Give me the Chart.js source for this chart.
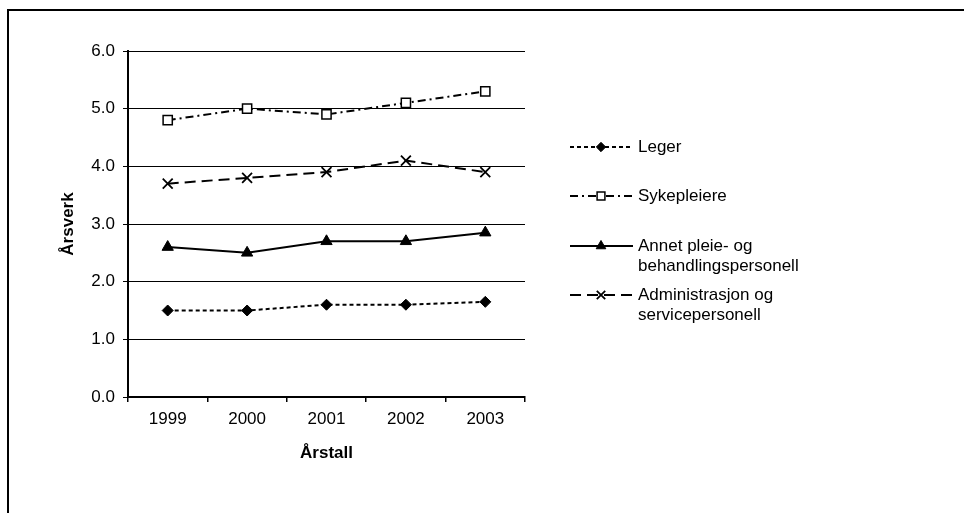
<!DOCTYPE html>
<html>
<head>
<meta charset="utf-8">
<title>Årsverk per år</title>
<script src="https://cdn.jsdelivr.net/npm/chart.js"></script>
<style>
  body { margin: 0; background: #fff; }
  #wrap { width: 964px; height: 513px; }
</style>
</head>
<body>
<div id="wrap"><canvas id="myChart" width="964" height="513"></canvas></div>
<script>
// data
var years = ['1999', '2000', '2001', '2002', '2003'];
var leger = [1.5, 1.5, 1.6, 1.6, 1.65];
var sykepleiere = [4.8, 5.0, 4.9, 5.1, 5.3];
var annet = [2.6, 2.5, 2.7, 2.7, 2.85];
var administrasjon = [3.7, 3.8, 3.9, 4.1, 3.9];
var seriesNames = [
  ['Leger'],
  ['Sykepleiere'],
  ['Annet pleie- og', 'behandlingspersonell'],
  ['Administrasjon og', 'servicepersonell']
];
var yMin = 0, yMax = 6, yStep = 1;

Chart.defaults.font.family = '"Liberation Sans", Arial, sans-serif';
Chart.defaults.font.size = 17;
Chart.defaults.color = '#000';

// outer frame (top + left edge only)
var framePlugin = {
  id: 'frame',
  beforeDraw: function (chart) {
    var ctx = chart.ctx;
    ctx.save();
    ctx.fillStyle = '#fff';
    ctx.fillRect(0, 0, chart.width, chart.height);
    ctx.strokeStyle = '#000';
    ctx.lineWidth = 2;
    ctx.beginPath();
    ctx.moveTo(8, chart.height);
    ctx.lineTo(8, 10);
    ctx.lineTo(chart.width, 10);
    ctx.stroke();
    ctx.restore();
  }
};

// legend on the right, drawn by hand so labels can wrap
var legendRows = [147, 196, 246, 295];
var sideLegend = {
  id: 'sideLegend',
  afterDraw: function (chart) {
    var ctx = chart.ctx;
    chart.data.datasets.forEach(function (ds, i) {
      var y = legendRows[i];
      ctx.save();
      ctx.strokeStyle = ds.borderColor;
      ctx.lineWidth = ds.borderWidth;
      ctx.setLineDash(ds.borderDash || []);
      ctx.beginPath();
      ctx.moveTo(570, y);
      ctx.lineTo(633, y);
      ctx.stroke();
      ctx.setLineDash([]);
      ctx.fillStyle = ds.pointBackgroundColor;
      ctx.strokeStyle = ds.pointBorderColor;
      ctx.lineWidth = ds.pointBorderWidth;
      Chart.helpers.drawPoint(ctx, {
        pointStyle: ds.pointStyle,
        radius: ds.pointRadius * 0.85,
        borderWidth: ds.pointBorderWidth,
        rotation: 0
      }, 601, y);
      ctx.fillStyle = '#000';
      ctx.font = '17px "Liberation Sans", Arial, sans-serif';
      ctx.textBaseline = 'middle';
      ctx.textAlign = 'left';
      seriesNames[i].forEach(function (line, k) {
        ctx.fillText(line, 638, y + k * 20);
      });
      ctx.restore();
    });
  }
};

var graph = document.getElementById('myChart');

var myChart = new Chart(graph, {
  type: 'line',
  data: {
    labels: years,
    datasets: [{
      label: seriesNames[0].join(' '),
      data: leger,
      borderColor: '#000',
      borderWidth: 2,
      borderDash: [4, 3],
      pointStyle: 'rectRot',
      pointRadius: 5.5,
      pointBackgroundColor: '#000',
      pointBorderColor: '#000',
      pointBorderWidth: 1
    }, {
      label: seriesNames[1].join(' '),
      data: sykepleiere,
      borderColor: '#000',
      borderWidth: 2,
      borderDash: [8, 4, 2, 4],
      pointStyle: 'rect',
      pointRadius: 6.5,
      pointBackgroundColor: '#fff',
      pointBorderColor: '#000',
      pointBorderWidth: 1.5
    }, {
      label: seriesNames[2].join(' '),
      data: annet,
      borderColor: '#000',
      borderWidth: 2,
      pointStyle: 'triangle',
      pointRadius: 6.5,
      pointBackgroundColor: '#000',
      pointBorderColor: '#000',
      pointBorderWidth: 1
    }, {
      label: seriesNames[3].join(' '),
      data: administrasjon,
      borderColor: '#000',
      borderWidth: 2,
      borderDash: [11, 6],
      pointStyle: 'crossRot',
      pointRadius: 7,
      pointBackgroundColor: '#000',
      pointBorderColor: '#000',
      pointBorderWidth: 1.8
    }]
  }, // ends data
  options: {
    responsive: false,
    animation: false,
    layout: { padding: { top: 51, right: 439, left: 0, bottom: 0 } },
    plugins: {
      legend: { display: false },
      tooltip: { enabled: false }
    },
    elements: { line: { tension: 0 } },
    scales: {
      x: {
        offset: true,
        grid: { offset: true, drawOnChartArea: false, drawTicks: true, tickLength: 5, color: '#000', lineWidth: 1.5 },
        border: { display: true, color: '#000', width: 2 },
        ticks: { padding: 7, maxRotation: 0, font: { size: 17 } },
        title: { display: true, text: 'Årstall', font: { size: 17, weight: 'bold' }, padding: { top: 0, bottom: 49 } },
        afterFit: function (scale) { scale.height = 116; }
      },
      y: {
        min: yMin,
        max: yMax,
        grid: { color: '#000', lineWidth: 1, tickLength: 5 },
        border: { display: true, color: '#000', width: 2 },
        ticks: {
          stepSize: yStep,
          padding: 8,
          font: { size: 17 },
          callback: function (v) { return v.toFixed(1); }
        },
        title: { display: true, text: 'Årsverk', font: { size: 17, weight: 'bold' }, padding: { top: 58, bottom: 0 } },
        afterFit: function (scale) { scale.width = 128; }
      }
    }
  },
  plugins: [framePlugin, sideLegend]
}); // ends the entire chart
</script>
</body>
</html>
